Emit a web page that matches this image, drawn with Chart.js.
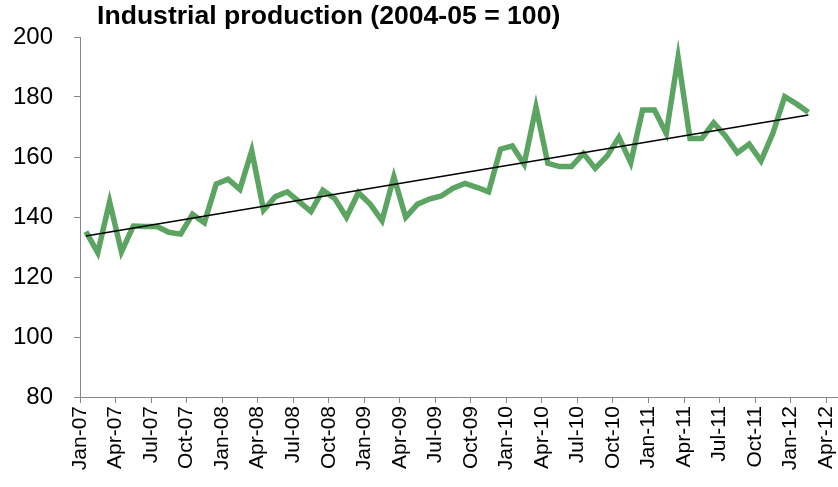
<!DOCTYPE html>
<html>
<head>
<meta charset="utf-8">
<script src="https://cdn.jsdelivr.net/npm/chart.js@4/dist/chart.umd.min.js"></script>
<style>
  html, body { margin: 0; padding: 0; background: #ffffff; }
  #wrap { position: relative; width: 838px; height: 487px; }
</style>
</head>
<body>
<div id="wrap"><canvas id="c" width="838" height="487"></canvas></div>
<script>
const titleText = 'Industrial production (2004-05 = 100)';

const months = [
  'Jan-07','Feb-07','Mar-07','Apr-07','May-07','Jun-07','Jul-07','Aug-07','Sep-07','Oct-07','Nov-07','Dec-07',
  'Jan-08','Feb-08','Mar-08','Apr-08','May-08','Jun-08','Jul-08','Aug-08','Sep-08','Oct-08','Nov-08','Dec-08',
  'Jan-09','Feb-09','Mar-09','Apr-09','May-09','Jun-09','Jul-09','Aug-09','Sep-09','Oct-09','Nov-09','Dec-09',
  'Jan-10','Feb-10','Mar-10','Apr-10','May-10','Jun-10','Jul-10','Aug-10','Sep-10','Oct-10','Nov-10','Dec-10',
  'Jan-11','Feb-11','Mar-11','Apr-11','May-11','Jun-11','Jul-11','Aug-11','Sep-11','Oct-11','Nov-11','Dec-11',
  'Jan-12','Feb-12'
];

const production = [
  135.1,128.1,145.1,128.4,137.0,136.8,136.8,134.9,134.3,140.9,138.1,151.0,
  152.6,149.2,162.1,142.3,146.8,148.4,145.1,141.8,148.9,146.2,139.9,148.1,
  144.3,138.8,153.4,139.9,144.3,146.0,147.0,149.6,151.2,149.9,148.4,162.6,
  163.7,157.6,176.6,157.9,156.8,156.8,161.2,156.2,160.3,166.6,158.1,175.7,
  175.7,167.9,193.2,166.2,166.2,171.4,167.0,161.4,164.3,158.7,167.9,180.1,
  177.7,174.9
];

// linear trend line: value at first and last month
const trendValues = [133.7, 174.0];

const tickLabels = [
  'Jan-07','Apr-07','Jul-07','Oct-07','Jan-08','Apr-08','Jul-08','Oct-08',
  'Jan-09','Apr-09','Jul-09','Oct-09','Jan-10','Apr-10','Jul-10','Oct-10',
  'Jan-11','Apr-11','Jul-11','Oct-11','Jan-12','Apr-12'
];
const monthsPerTick = 3;

const yTicks = [80, 100, 120, 140, 160, 180, 200];

// build data in month-slot space (each month occupies one slot, point at its centre)
const lineData = production.map((v, i) => ({ x: i + 0.5, y: v }));
const trendData = [
  { x: 0.5, y: trendValues[0] },
  { x: months.length - 0.5, y: trendValues[1] }
];
const xMax = (tickLabels.length - 1) * monthsPerTick + 1;

const axisGray = '#868686';
const FONT = "'Liberation Sans', Arial, sans-serif";

const titlePlugin = {
  id: 'leftTitle',
  afterDraw(chart) {
    const ctx = chart.ctx;
    ctx.save();
    ctx.font = "bold 26.6px " + FONT;
    ctx.fillStyle = '#000';
    ctx.textBaseline = 'middle';
    ctx.textAlign = 'left';
    ctx.fillText(titleText, chart.chartArea.left + 17, 17);
    ctx.restore();
  }
};

new Chart(document.getElementById('c'), {
  type: 'line',
  data: {
    datasets: [
      {
        label: 'Industrial production',
        data: lineData,
        borderColor: '#5ca461',
        borderWidth: 5.5,
        pointRadius: 0,
        tension: 0,
        fill: false,
        borderJoinStyle: 'miter',
        order: 2
      },
      {
        label: 'Trend',
        data: trendData,
        borderColor: '#000000',
        borderWidth: 1.5,
        pointRadius: 0,
        tension: 0,
        fill: false,
        order: 1
      }
    ]
  },
  options: {
    responsive: false,
    animation: false,
    devicePixelRatio: 1,
    layout: { padding: { top: 37, right: 0, left: 0, bottom: 0 } },
    plugins: {
      legend: { display: false },
      title: { display: false },
      tooltip: { enabled: false }
    },
    scales: {
      x: {
        type: 'linear',
        min: 0,
        max: xMax,
        afterBuildTicks(scale) {
          scale.ticks = tickLabels.map((_, i) => ({ value: i * monthsPerTick }));
        },
        afterFit(scale) {
          scale.height = 90;
          scale.paddingLeft = 0;
          scale.paddingRight = 0;
        },
        ticks: {
          autoSkip: false,
          minRotation: 90,
          maxRotation: 90,
          padding: 3,
          color: '#000',
          font: { family: FONT, size: 21 },
          callback(value) {
            const idx = Math.round(value / monthsPerTick);
            return tickLabels[idx] || '';
          }
        },
        grid: {
          display: true,
          drawOnChartArea: false,
          drawTicks: true,
          tickLength: 6,
          color: axisGray
        },
        border: { display: true, color: axisGray, width: 1 }
      },
      y: {
        min: 80,
        max: 200,
        afterBuildTicks(scale) {
          scale.ticks = yTicks.map(v => ({ value: v }));
        },
        afterFit(scale) {
          scale.width = 80;
          scale.paddingTop = 0;
          scale.paddingBottom = 0;
        },
        ticks: {
          padding: 21,
          color: '#000',
          font: { family: FONT, size: 24 }
        },
        grid: {
          display: true,
          drawOnChartArea: false,
          drawTicks: true,
          tickLength: 6,
          color: axisGray
        },
        border: { display: true, color: axisGray, width: 1 }
      }
    }
  },
  plugins: [titlePlugin]
});
</script>
</body>
</html>
